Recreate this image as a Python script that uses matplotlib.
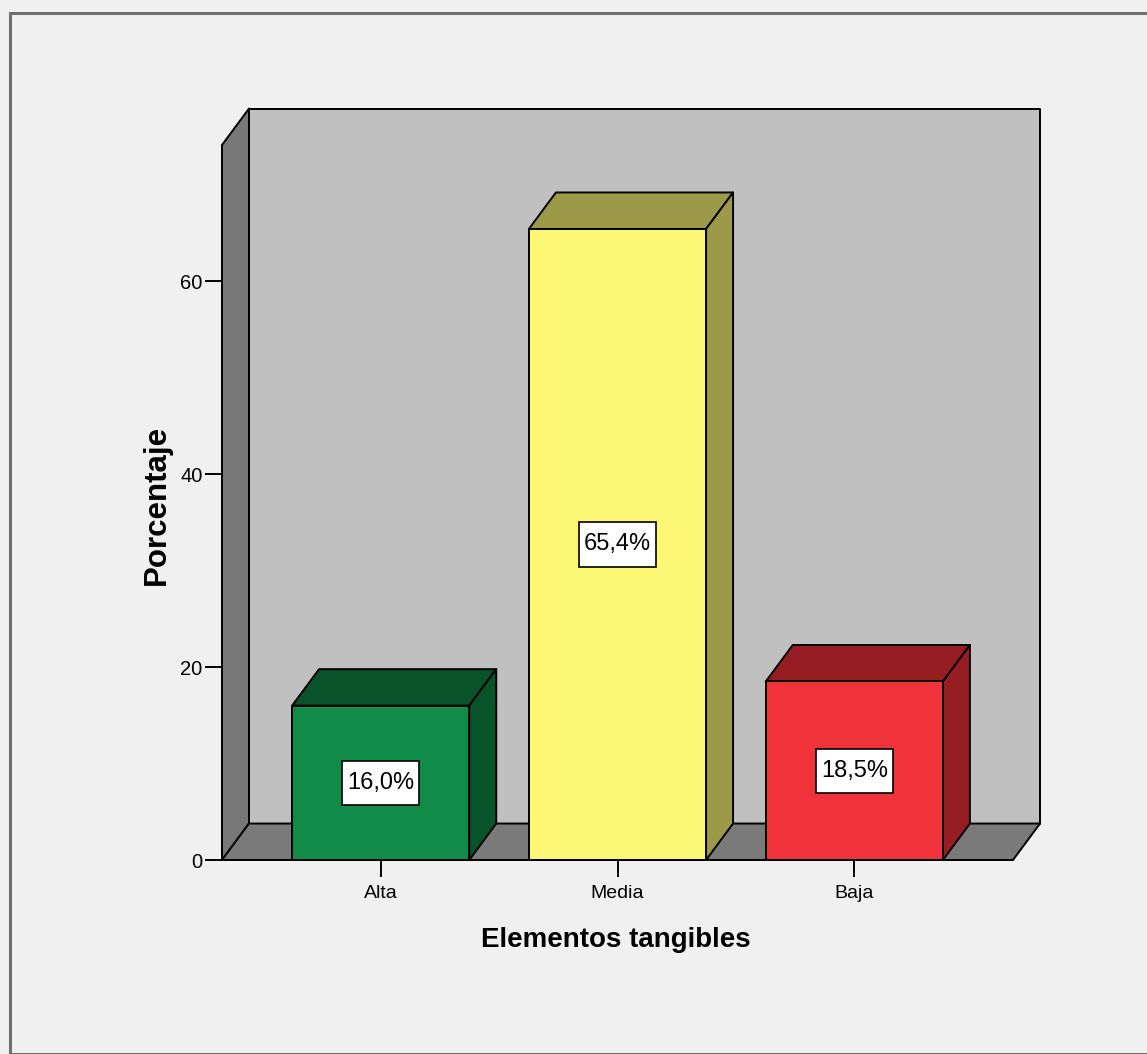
import matplotlib.pyplot as plt
from matplotlib.patches import Polygon, Rectangle

# datos del grafico
categorias = ["Alta", "Media", "Baja"]
porcentajes = [16.0, 65.4, 18.5]
etiquetas = ["16,0%", "65,4%", "18,5%"]
ticks_y = [0, 20, 40, 60]

color_frente = ["#118c48", "#fcf876", "#f0323a"]
color_lado = ["#08532a", "#9c9a48", "#961e23"]

plt.rcParams["font.family"] = ["Liberation Sans", "DejaVu Sans"]

W, H = 1147, 1054
fig = plt.figure(figsize=(W / 100, H / 100), dpi=100)
fig.patch.set_facecolor("#f0f0f0")

# marco exterior
fig.patches.append(Rectangle((10 / W, 0), 2, (H - 13) / H, transform=fig.transFigure,
                             fill=False, edgecolor="#707070", linewidth=2.2))

ax = fig.add_axes([222 / W, (H - 860) / H, (1013 - 222) / W, (860 - 145) / H])
ax.set_facecolor("none")
xl, xr = -0.67, 2.67
ymax = 74.1
ax.set_xlim(xl, xr)
ax.set_ylim(0, ymax)

# profundidad de la perspectiva (unidades de datos)
dx, dy = 0.114, 3.78
lw = 1.4

def poli(pts, color, z):
    ax.add_patch(Polygon(pts, closed=True, facecolor=color, edgecolor="black",
                         linewidth=lw, clip_on=False, zorder=z, joinstyle="round"))

# paredes y suelo
poli([(xl + dx, dy), (xr + dx, dy), (xr + dx, ymax + dy), (xl + dx, ymax + dy)], "#c0c0c0", 1)
poli([(xl, 0), (xl, ymax), (xl + dx, ymax + dy), (xl + dx, dy)], "#787878", 2)
poli([(xl, 0), (xr, 0), (xr + dx, dy), (xl + dx, dy)], "#7a7a7a", 2)

# barras 3D con su etiqueta de porcentaje
ancho = 0.374
caja_w, caja_h = 0.326, 4.6
for i, (v, cf, cl, et) in enumerate(zip(porcentajes, color_frente, color_lado, etiquetas)):
    a, b = i - ancho, i + ancho
    poli([(a, 0), (b, 0), (b, v), (a, v)], cf, 5)
    poli([(a, v), (b, v), (b + dx, v + dy), (a + dx, v + dy)], cl, 4)
    poli([(b, 0), (b + dx, dy), (b + dx, v + dy), (b, v)], cl, 4)
    ax.add_patch(Rectangle((i - caja_w / 2, v / 2 - caja_h / 2), caja_w, caja_h,
                           facecolor="white", edgecolor="black", linewidth=1.2, zorder=6))
    ax.text(i, v / 2, et, ha="center", va="center", fontsize=17, zorder=7)

# ejes
for s in ["top", "right"]:
    ax.spines[s].set_visible(False)
ax.spines["left"].set_linewidth(lw)
ax.spines["bottom"].set_linewidth(lw)
ax.spines["left"].set_zorder(3)
ax.spines["bottom"].set_zorder(3)
ax.set_yticks(ticks_y)
ax.set_yticklabels([str(t) for t in ticks_y], fontsize=14.5)
ax.set_xticks(range(len(categorias)))
ax.set_xticklabels(categorias, fontsize=14)
ax.tick_params(axis="y", length=12, width=1.4, pad=2)
ax.tick_params(axis="x", length=12, width=1.4, pad=6)

fig.text(616 / W, 1 - 940 / H, "Elementos tangibles", ha="center", va="center",
         fontsize=20, fontweight="bold")
fig.text(157 / W, 1 - 505 / H, "Porcentaje", ha="center", va="center",
         fontsize=22.5, fontweight="bold", rotation=90)

fig.savefig("out.png", dpi=100, facecolor=fig.get_facecolor())
